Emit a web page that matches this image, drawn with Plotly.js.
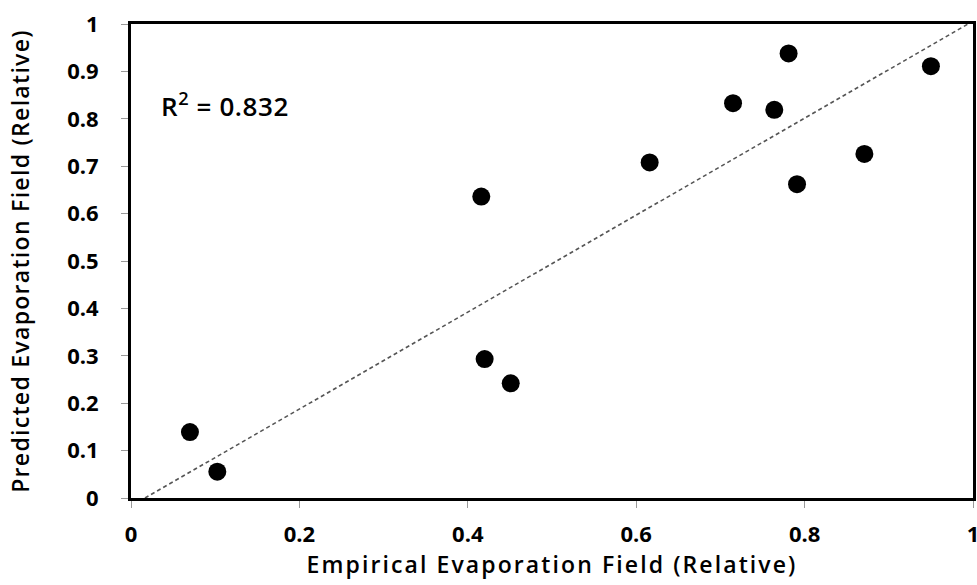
<!DOCTYPE html>
<html>
<head>
<meta charset="utf-8">
<script src="https://cdn.plot.ly/plotly-3.0.1.min.js"></script>
<style>
html,body{margin:0;padding:0;background:#fff;}
#chart{width:977px;height:585px;}
#chart .xtitle{letter-spacing:2.1px;}
#chart .ytitle{letter-spacing:1.3px;}
#chart .annotation-text{letter-spacing:0.6px;}
</style>
</head>
<body>
<div id="chart"></div>
<script>
const empirical = [0.070, 0.1025, 0.420, 0.451, 0.416, 0.616, 0.715, 0.764, 0.781, 0.791, 0.871, 0.950];
const predicted = [0.139, 0.0555, 0.293, 0.242, 0.636, 0.708, 0.833, 0.819, 0.938, 0.662, 0.726, 0.911];
const trendX = [0.0166, 1.0];
const trendY = [0.0, 1.006];
const tickVals = [0, 0.1, 0.2, 0.3, 0.4, 0.5, 0.6, 0.7, 0.8, 0.9, 1];
const yTickText = ['0', '0.1', '0.2', '0.3', '0.4', '0.5', '0.6', '0.7', '0.8', '0.9', '1'];
const xTickVals = [0, 0.2, 0.4, 0.6, 0.8, 1];
const xTickText = ['0', '0.2', '0.4', '0.6', '0.8', '1'];
const rSquared = '0.832';

const font = '"Open Sans", Lato, sans-serif';

const traces = [
  {
    x: trendX, y: trendY, mode: 'lines', type: 'scatter',
    line: {color: '#555555', width: 1.6, dash: '4px,3px'},
    hoverinfo: 'skip', showlegend: false
  },
  {
    x: empirical, y: predicted, mode: 'markers', type: 'scatter',
    marker: {color: '#000000', size: 18},
    showlegend: false, cliponaxis: false
  }
];

const layout = {
  width: 977, height: 585,
  margin: {l: 131, r: 4, t: 24, b: 87},
  paper_bgcolor: '#ffffff', plot_bgcolor: '#ffffff',
  showlegend: false,
  xaxis: {
    range: [0, 1], tickvals: xTickVals, ticktext: xTickText,
    showgrid: false, zeroline: false,
    showline: true, linecolor: '#000000', linewidth: 3, mirror: true,
    ticks: 'outside', ticklen: 7, tickcolor: '#999999', tickwidth: 1,
    ticklabelstandoff: 8, ticklabeloverflow: 'allow',
    tickfont: {family: font, size: 22, color: '#000000', weight: 'bold'},
    title: {text: 'Empirical Evaporation Field (Relative)', standoff: 4,
            font: {family: font, size: 23, color: '#000000', weight: 600}}
  },
  yaxis: {
    range: [0, 1], tickvals: tickVals, ticktext: yTickText,
    showgrid: false, zeroline: false,
    showline: true, linecolor: '#000000', linewidth: 3, mirror: true,
    ticks: 'outside', ticklen: 7, tickcolor: '#999999', tickwidth: 1,
    ticklabelstandoff: 18, ticklabeloverflow: 'allow',
    tickfont: {family: font, size: 22, color: '#000000', weight: 'bold'},
    title: {text: 'Predicted Evaporation Field (Relative)', standoff: 32,
            font: {family: font, size: 23, color: '#000000', weight: 600}}
  },
  annotations: [{
    xref: 'paper', yref: 'paper', x: 0.037, y: 0.83, xanchor: 'left', yanchor: 'middle',
    text: 'R<sup>2</sup> = ' + rSquared, showarrow: false,
    font: {family: font, size: 26, color: '#000000', weight: 600}
  }]
};

Plotly.newPlot('chart', traces, layout, {displayModeBar: false, staticPlot: true});
</script>
</body>
</html>
